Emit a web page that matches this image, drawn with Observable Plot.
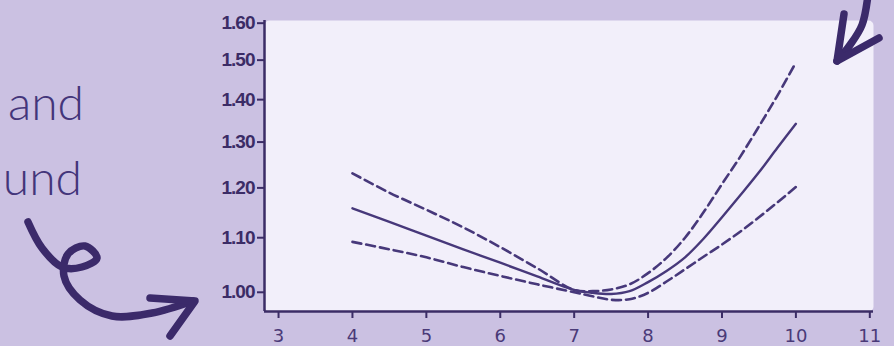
<!DOCTYPE html>
<html><head><meta charset="utf-8">
<script src="https://cdn.jsdelivr.net/npm/d3@7"></script>
<script src="https://cdn.jsdelivr.net/npm/@observablehq/plot@0.6"></script>
<style>
html,body{margin:0;padding:0;background:#cbc1e2;}
#wrap{position:relative;width:894px;height:346px;overflow:hidden;background:#cbc1e2;}
#wrap svg{position:absolute;left:0;top:0;}
#wrap [aria-label="y-axis tick label"] text{font-family:"Liberation Sans",Arial,sans-serif;font-weight:bold;font-size:19px;letter-spacing:-1px;fill:#3b2c66;}
#wrap [aria-label="x-axis tick label"] text{font-family:"DejaVu Sans",sans-serif;font-size:18px;fill:#4a3a78;}
</style></head><body><div id="wrap"></div>
<script>
// data
const xValues = [4, 4.5, 5, 5.5, 6, 6.5, 7, 7.25, 7.5, 7.75, 8, 8.25, 8.5, 8.75, 9, 9.25, 9.5, 9.75, 10];
const estimate = [1.158, 1.131, 1.104, 1.078, 1.053, 1.028, 1.004, 0.999, 0.997, 1.002, 1.018, 1.038, 1.063, 1.098, 1.140, 1.185, 1.233, 1.287, 1.342];
const upperCI = [1.231, 1.190, 1.155, 1.120, 1.082, 1.043, 1.004, 1.002, 1.005, 1.014, 1.034, 1.062, 1.100, 1.150, 1.208, 1.268, 1.336, 1.410, 1.494];
const lowerCI = [1.092, 1.078, 1.063, 1.045, 1.029, 1.014, 1.000, 0.993, 0.987, 0.988, 0.999, 1.019, 1.041, 1.064, 1.087, 1.112, 1.140, 1.170, 1.202];
const xTicks = [3, 4, 5, 6, 7, 8, 9, 10, 11];
const yTicks = [1.00, 1.10, 1.20, 1.30, 1.40, 1.50, 1.60];
const xDomain = [2.81, 11.05];
const yDomain = [0.967, 1.6075];
const sideWords = ["and", "und"];

const ink = "#47387a";
const axisInk = "#3b2c66";
const mk = arr => xValues.map((x, i) => ({x, y: arr[i]}));

const plot = Plot.plot({
  width: 894, height: 346,
  marginLeft: 264, marginRight: 21, marginTop: 20, marginBottom: 35,
  style: {background: "transparent", overflow: "visible"},
  x: {domain: xDomain},
  y: {type: "log", domain: yDomain},
  marks: [
    Plot.frame({fill: "#f2effa", stroke: null, rx: 5}),
    Plot.axisY({ticks: yTicks, tickFormat: d3.format(".2f"), tickSize: 7, tickPadding: 3, stroke: axisInk, strokeWidth: 2, label: null}),
    Plot.axisX({ticks: xTicks, tickFormat: d3.format("d"), tickSize: 7, tickPadding: 11, stroke: axisInk, strokeWidth: 2, label: null}),
    Plot.ruleX([xDomain[0]], {stroke: axisInk, strokeWidth: 2.5}),
    Plot.ruleY([yDomain[0]], {stroke: axisInk, strokeWidth: 2.5}),
    Plot.line(mk(upperCI), {x: "x", y: "y", stroke: ink, strokeWidth: 2.6, strokeDasharray: "9,5", curve: "catmull-rom"}),
    Plot.line(mk(lowerCI), {x: "x", y: "y", stroke: ink, strokeWidth: 2.6, strokeDasharray: "9,5", curve: "catmull-rom"}),
    Plot.line(mk(estimate), {x: "x", y: "y", stroke: ink, strokeWidth: 2.4, curve: "catmull-rom"})
  ]
});
const wrap = document.getElementById("wrap");
wrap.appendChild(plot);

// decorative hand-drawn annotations
const deco = d3.select(wrap).append("svg").attr("width", 894).attr("height", 346);
deco.append("text").attr("x", 84).attr("y", 120).attr("text-anchor", "end")
  .attr("font-family", "Lato, 'Open Sans', sans-serif").attr("font-weight", 300)
  .attr("font-size", 48).attr("fill", "#43357a").text(sideWords[0]);
deco.append("text").attr("x", 82).attr("y", 195).attr("text-anchor", "end")
  .attr("font-family", "Lato, 'Open Sans', sans-serif").attr("font-weight", 300)
  .attr("font-size", 48).attr("fill", "#43357a").text(sideWords[1]);
const arrowStyle = g => g.attr("fill", "none").attr("stroke", "#3b2a6a").attr("stroke-width", 7.5).attr("stroke-linecap", "round").attr("stroke-linejoin", "round");
const curl = d3.line().curve(d3.curveCatmullRom)([[28,222],[42,248],[62,267],[82,267],[97,258],[85,246],[68,254],[64,276],[80,300],[112,316],[152,313],[193,301]]);
deco.append("path").attr("d", curl).call(arrowStyle);
deco.append("path").attr("d", "M150,298 L195,301 L170,336").call(arrowStyle);
const shaft = d3.line().curve(d3.curveCatmullRom)([[868,-5],[862,25],[850,45],[837,61]]);
deco.append("path").attr("d", shaft).call(arrowStyle);
deco.append("path").attr("d", "M844,14 L837,61 L879,38").call(arrowStyle);
</script></body></html>
